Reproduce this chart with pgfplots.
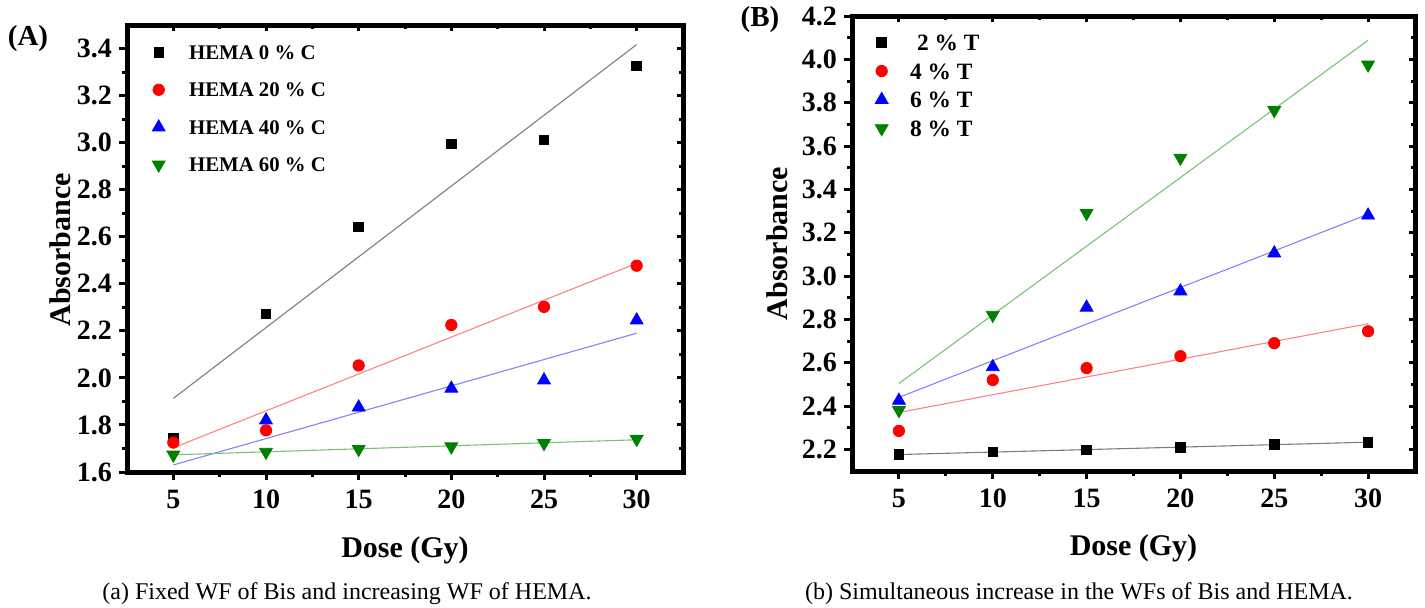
\documentclass[border=0pt]{standalone}
\usepackage{pgfplots}
\pgfplotsset{compat=1.18}
\usepackage{fontspec}
\setmainfont{Liberation Serif}
\definecolor{mgreen}{RGB}{0,128,0}
\definecolor{fitblack}{RGB}{125,125,125}
\definecolor{fitred}{RGB}{255,130,130}
\definecolor{fitblue}{RGB}{130,130,255}
\definecolor{fitgreen}{RGB}{120,195,120}
\pgfplotsset{
  base/.style={
    scale only axis,
    xmin=2.5, xmax=32.5,
    xtick={5,10,15,20,25,30},
    minor x tick num=1, minor y tick num=1,
    axis line style={line width=2.5pt, line cap=rect},
    major tick style={line width=1.5pt, black},
    minor tick style={line width=1.5pt, black},
    major tick length=4pt, minor tick length=2.5pt,
    tick label style={font=\fontsize{14}{14}\selectfont\bfseries},
    /pgf/number format/assume math mode=true,
    yticklabel style={/pgf/number format/fixed, /pgf/number format/precision=1, /pgf/number format/fixed zerofill},
    xticklabel style={yshift=-1.5pt},
    clip marker paths=true,
  },
  outer/.style={base, tick align=outside, xtick pos=left, ytick pos=left},
  inner/.style={base, tick align=inside, xtick pos=right, ytick pos=right,
    xticklabels={}, yticklabels={}, major tick length=3pt, minor tick length=2pt},
  fit/.style={forget plot, no marks, line width=0.55pt},
  sq/.style={only marks, mark=square*, mark size=2.4pt, black},
  ci/.style={only marks, mark=*, mark size=2.85pt, red, mark options={draw=red, fill=red}},
  tu/.style={only marks, mark=triangle*, mark size=3.7pt, blue, mark options={draw=blue, fill=blue}},
  td/.style={only marks, mark=triangle*, mark size=3.7pt, mgreen, mark options={draw=mgreen, fill=mgreen, rotate=180}},
  mylegimg/.style={legend image code/.code={\path (0pt,0pt) (#1,0pt); \draw[##1] plot coordinates {(6pt,0pt)};}},
}
\begin{document}
\begin{tikzpicture}
\useasboundingbox (0,0) rectangle (712.5pt,303.5pt);
% ---------------- Panel A ----------------
\begin{axis}[inner, at={(63.5pt,67.5pt)}, anchor=south west, width=278pt, height=223.5pt,
  ymin=1.6, ymax=3.5, ytick={1.6,1.8,2.0,2.2,2.4,2.6,2.8,3.0,3.2,3.4}]
\end{axis}
\begin{axis}[outer, at={(63.5pt,67.5pt)}, anchor=south west, width=278pt, height=223.5pt,
  ymin=1.6, ymax=3.5, ytick={1.6,1.8,2.0,2.2,2.4,2.6,2.8,3.0,3.2,3.4},
  xlabel={Dose (Gy)}, ylabel={Absorbance},
  xlabel style={font=\fontsize{15}{15}\selectfont\bfseries, at={(axis description cs:0.5,-0.1745)}, anchor=center},
  ylabel style={font=\fontsize{15}{15}\selectfont\bfseries, at={(axis description cs:-0.1205,0.497)}, anchor=center},
  mylegimg=20pt,
  legend style={at={(axis description cs:0.034,0.96)}, anchor=north west, draw=none, fill=none,
    inner sep=0pt, font=\fontsize{10.4}{10.4}\selectfont\bfseries, row sep=9.75pt,
    nodes={inner sep=1pt, text height=7pt, text depth=0pt}},
  legend cell align=left]
\addplot[fit, fitblack] coordinates {(5,1.913) (30,3.417)};
\addplot[fit, fitred] coordinates {(5,1.703) (30,2.487)};
\addplot[fit, fitblue] coordinates {(5,1.63) (30,2.19)};
\addplot[fit, fitgreen] coordinates {(5,1.673) (30,1.737)};
\addplot[sq] coordinates {(5,1.745) (10,2.272) (15,2.642) (20,2.995) (25,3.012) (30,3.327)};
\addplot[ci] coordinates {(5,1.725) (10,1.777) (15,2.053) (20,2.225) (25,2.302) (30,2.477)};
\addplot[tu] coordinates {(5,1.565) (10,1.82) (15,1.875) (20,1.955) (25,1.99) (30,2.245)};
\addplot[td] coordinates {(5,1.673) (10,1.685) (15,1.697) (20,1.708) (25,1.722) (30,1.740)};
\legend{HEMA 0 \% C, HEMA 20 \% C, HEMA 40 \% C, HEMA 60 \% C}
\end{axis}
% ---------------- Panel B ----------------
\begin{axis}[inner, at={(426pt,68pt)}, anchor=south west, width=281.5pt, height=227.5pt,
  ymin=2.1, ymax=4.2, ytick={2.2,2.4,2.6,2.8,3.0,3.2,3.4,3.6,3.8,4.0,4.2}]
\end{axis}
\begin{axis}[outer, at={(426pt,68pt)}, anchor=south west, width=281.5pt, height=227.5pt,
  ymin=2.1, ymax=4.2, ytick={2.2,2.4,2.6,2.8,3.0,3.2,3.4,3.6,3.8,4.0,4.2},
  xlabel={Dose (Gy)}, ylabel={Absorbance},
  xlabel style={font=\fontsize{15}{15}\selectfont\bfseries, at={(axis description cs:0.5,-0.171)}, anchor=center},
  ylabel style={font=\fontsize{15}{15}\selectfont\bfseries, at={(axis description cs:-0.1332,0.5)}, anchor=center},
  mylegimg=19pt,
  legend style={at={(axis description cs:0.03,0.965)}, anchor=north west, draw=none, fill=none,
    inner sep=0pt, font=\fontsize{11.7}{11.7}\selectfont\bfseries, row sep=4.35pt,
    nodes={inner sep=1pt, text height=8pt, text depth=0pt}},
  legend cell align=left]
\addplot[fit, fitblack] coordinates {(5,2.176) (30,2.233)};
\addplot[fit, fitred] coordinates {(5,2.37) (30,2.78)};
\addplot[fit, fitblue] coordinates {(5,2.44) (30,3.285)};
\addplot[fit, fitgreen] coordinates {(5,2.504) (30,4.088)};
\addplot[sq] coordinates {(5,2.178) (10,2.188) (15,2.198) (20,2.21) (25,2.222) (30,2.232)};
\addplot[ci] coordinates {(5,2.285) (10,2.52) (15,2.575) (20,2.63) (25,2.69) (30,2.745)};
\addplot[tu] coordinates {(5,2.425) (10,2.58) (15,2.855) (20,2.93) (25,3.105) (30,3.28)};
\addplot[td] coordinates {(5,2.38) (10,2.82) (15,3.29) (20,3.545) (25,3.765) (30,3.975)};
\legend{\hspace{3.5pt}2 \% T, 4 \% T, 6 \% T, 8 \% T}
\end{axis}
% ---------------- panel letters and captions ----------------
\node[font=\fontsize{14.5}{14.5}\selectfont\bfseries] at (14pt,284pt) {(A)};
\node[font=\fontsize{14.5}{14.5}\selectfont\bfseries] at (380pt,293.5pt) {(B)};
\node[font=\fontsize{12}{12}\selectfont, anchor=base] at (173.5pt,3.8pt) {(a) Fixed WF of Bis and increasing WF of HEMA.};
\node[font=\fontsize{12}{12}\selectfont, anchor=base] at (539.5pt,3.8pt) {(b) Simultaneous increase in the WFs of Bis and HEMA.};
\end{tikzpicture}
\end{document}
